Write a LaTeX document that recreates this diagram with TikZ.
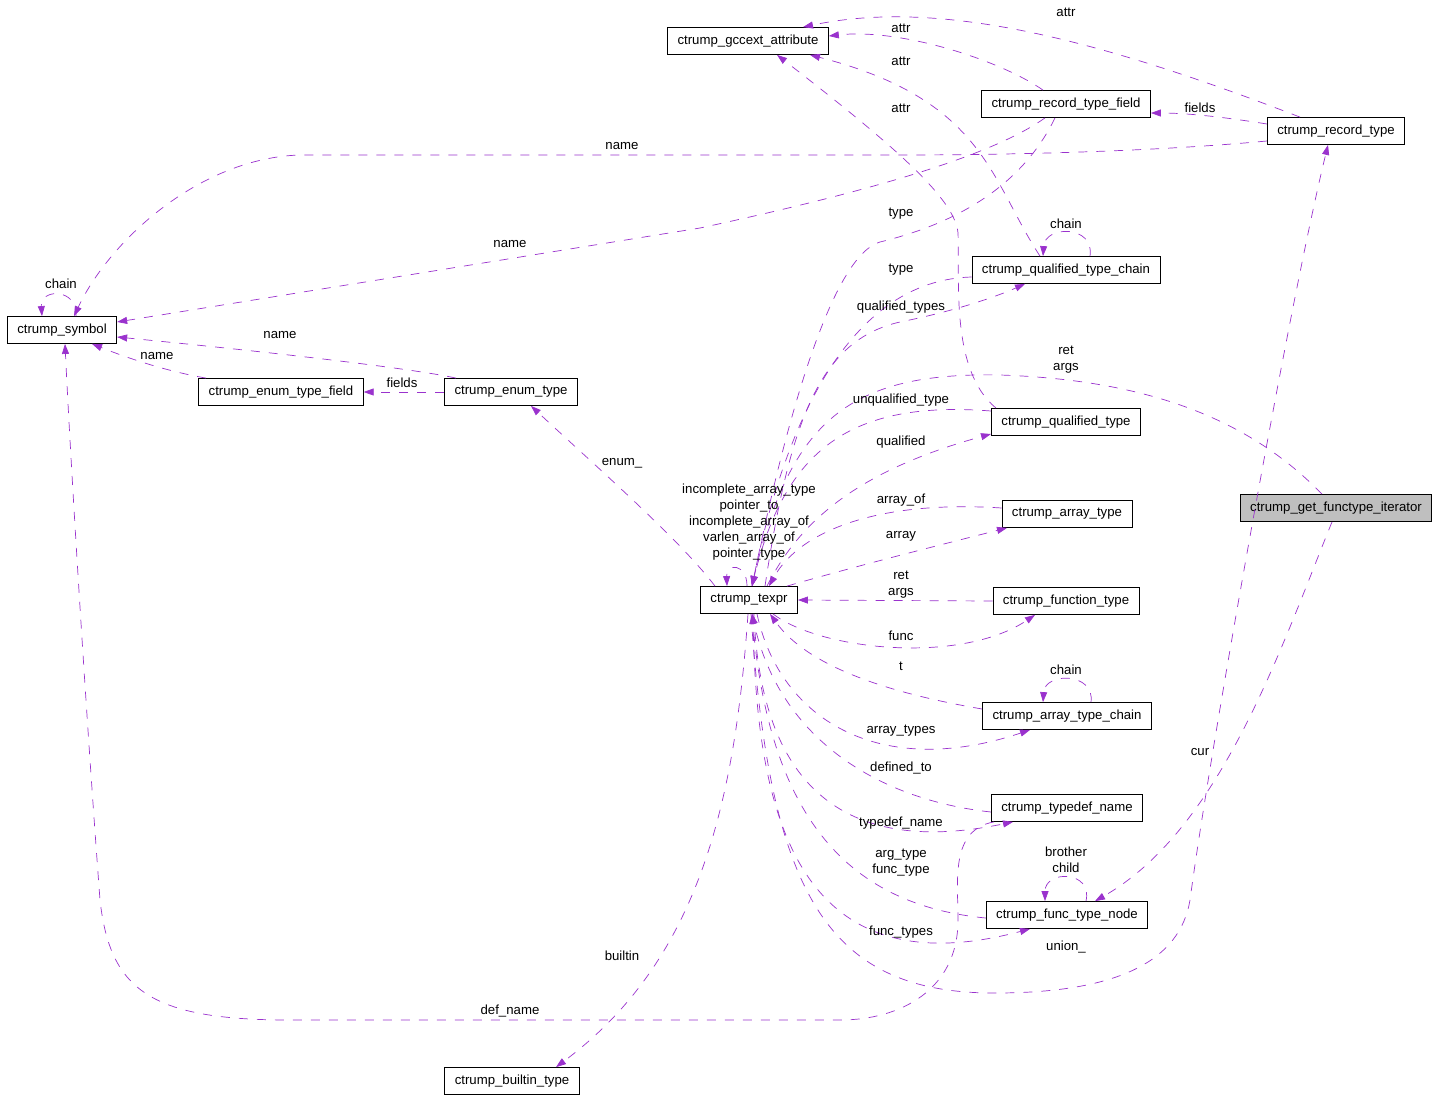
\documentclass[tikz,border=0pt]{standalone}
\usepackage{fontspec}
\setmainfont{Liberation Sans}
\usepackage{tikz}
\usetikzlibrary{arrows.meta}
\definecolor{usecol}{HTML}{9A32CD}
\definecolor{curfill}{HTML}{BFBFBF}

\begin{document}
\begin{tikzpicture}[x=1pt,y=-1pt,
    every node/.style={font=\fontsize{13.2}{16}\selectfont},
    cls/.style={draw,line width=0.8pt,inner xsep=10pt,inner ysep=0pt,minimum height=27pt},
    curcls/.style={cls,fill=curfill},
    lbl/.style={inner sep=0pt,align=center},
    usage/.style={usecol,line width=0.7pt,dash pattern=on 9pt off 9pt,-{Triangle[length=10pt,width=7pt]}}]
    \useasboundingbox (0,0) rectangle (1437,1100);

      \node[cls] (g) at (748,41) {ctrump\_gccext\_attribute};
      \node[cls] (rtf) at (1066,104) {ctrump\_record\_type\_field};
      \node[cls] (rt) at (1336,131) {ctrump\_record\_type};
      \node[cls] (qtc) at (1066,270) {ctrump\_qualified\_type\_chain};
      \node[cls] (sym) at (62,330) {ctrump\_symbol};
      \node[cls] (etf) at (281,392) {ctrump\_enum\_type\_field};
      \node[cls] (et) at (511,392) {ctrump\_enum\_type};
      \node[cls] (qt) at (1066,422) {ctrump\_qualified\_type};
      \node[curcls] (gfi) at (1336,508) {ctrump\_get\_functype\_iterator};
      \node[cls] (at) at (1067,514) {ctrump\_array\_type};
      \node[cls] (tx) at (749,600) {ctrump\_texpr};
      \node[cls] (ft) at (1066,601) {ctrump\_function\_type};
      \node[cls] (atc) at (1067,716) {ctrump\_array\_type\_chain};
      \node[cls] (tn) at (1067,808) {ctrump\_typedef\_name};
      \node[cls] (ftn) at (1067,915) {ctrump\_func\_type\_node};
      \node[cls] (bt) at (512,1081) {ctrump\_builtin\_type};

      \draw[usage] ([xshift=-36pt]rt.north) .. controls (1100,40) and (940,-2) .. ([xshift=55pt]g.north);
      \draw[usage] ([xshift=-23pt]rtf.north) .. controls (1000,60) and (900,28) .. ([yshift=5pt]g.east);
      \draw[usage] ([xshift=-26pt]qtc.north) .. controls (990,180) and (985,100) .. ([xshift=62pt]g.south);
      \draw[usage] ([xshift=-70pt]qt.north) .. controls (950,370) and (960,280) .. (958,233)
            .. controls (955,200) and (900,150) .. ([xshift=29pt]g.south);
      \draw[usage] ([yshift=7pt]rt.west) .. controls (1230,118) and (1190,113) .. ([yshift=-9pt]rtf.east);
      \draw[usage] ([yshift=-10pt]rt.west) .. controls (1150,152) and (1000,155) .. (900,155) -- (300,155)
            .. controls (200,158) and (110,240) .. ([xshift=12pt]sym.north);
      \draw[usage] ([xshift=-21pt]rtf.south) .. controls (1000,150) and (900,185) .. (700,228) -- ([yshift=8pt]sym.east);
      \draw[usage] ([xshift=-11pt]rtf.south) .. controls (1020,190) and (950,225) .. (880,242)
            .. controls (835,255) and (790,400) .. ([xshift=3pt]tx.north);
      \draw[usage] ([yshift=-7pt]qtc.west) .. controls (860,280) and (790,400) .. ([xshift=3pt]tx.north);
      \draw[usage] ([xshift=16pt]tx.north) .. controls (790,420) and (820,340) .. (900,322)
            .. controls (960,310) and (1000,295) .. ([xshift=-41pt]qtc.south);
      \draw[usage] ([xshift=24pt]qtc.north) .. controls (1095,225) and (1045,225) .. ([xshift=-23pt]qtc.north);
      \draw[usage] ([xshift=14pt]sym.north) .. controls (78,288) and (40,288) .. ([xshift=-20pt]sym.north);
      \draw[usage] ([xshift=-55pt]et.north) .. controls (420,370) and (300,355) .. ([yshift=-7pt]sym.east);
      \draw[usage] ([xshift=-75pt]etf.north) .. controls (160,370) and (120,355) .. ([xshift=30pt]sym.south);
      \draw[usage] (et.west) -- (etf.east);
      \draw[usage] ([xshift=-34pt]tx.north) .. controls (680,540) and (600,470) .. ([xshift=20pt]et.south);
      \draw[usage] ([xshift=-14pt]gfi.north) .. controls (1250,420) and (1150,380) .. (1000,375)
            .. controls (850,372) and (790,420) .. ([xshift=3pt]tx.north);
      \draw[usage] ([yshift=11pt]qt.west) .. controls (850,400) and (785,450) .. ([xshift=3pt]tx.north);
      \draw[usage] ([xshift=18pt]tx.north) .. controls (800,520) and (860,470) .. ([yshift=-12pt]qt.west);
      \draw[usage] ([xshift=-2pt]tx.north) .. controls (747,563) and (726,563) .. ([xshift=-22pt]tx.north);
      \draw[usage] ([yshift=6pt]at.west) .. controls (880,500) and (800,530) .. ([xshift=20pt]tx.north);
      \draw[usage] ([xshift=38pt]tx.north) .. controls (860,565) and (940,545) .. ([xshift=-60pt]at.south);
      \draw[usage] (ft.west) -- (tx.east);
      \draw[usage] ([xshift=24pt]tx.south) .. controls (820,650) and (960,665) .. ([xshift=-31pt]ft.south);
      \draw[usage] ([yshift=7pt]atc.west) .. controls (900,695) and (810,670) .. ([xshift=21pt]tx.south);
      \draw[usage] ([xshift=8pt]tx.south) .. controls (780,720) and (880,780) .. ([xshift=-37pt]atc.south);
      \draw[usage] ([xshift=24pt]atc.north) .. controls (1095,672) and (1045,672) .. ([xshift=-24pt]atc.north);
      \draw[usage] ([yshift=-4pt]tn.west) .. controls (880,800) and (780,740) .. ([xshift=3pt]tx.south);
      \draw[usage] ([xshift=5pt]tx.south) .. controls (760,770) and (830,860) .. ([xshift=-54pt]tn.south);
      \draw[usage] ([yshift=-3pt]ftn.west) .. controls (850,905) and (770,820) .. ([xshift=3pt]tx.south);
      \draw[usage] ([xshift=4pt]tx.south) .. controls (755,820) and (800,990) .. ([xshift=-37pt]ftn.south);
      \draw[usage] ([xshift=19pt]ftn.north) .. controls (1093,870) and (1045,870) .. ([xshift=-22pt]ftn.north);
      \draw[usage] ([xshift=-4pt]gfi.south) .. controls (1280,650) and (1220,830) .. ([xshift=28pt]ftn.north);
      \draw[usage] ([xshift=2pt]tx.south) .. controls (770,900) and (830,995) .. (1000,993)
            .. controls (1120,992) and (1180,960) .. (1190,900)
            .. controls (1210,750) and (1290,300) .. ([xshift=-8pt]rt.south);
      \draw[usage] ([xshift=3pt]tn.south west) .. controls (950,830) and (958,880) .. (958,920)
            .. controls (958,990) and (900,1020) .. (840,1020) -- (290,1020)
            .. controls (150,1020) and (110,990) .. (100,900)
            .. controls (85,700) and (70,450) .. ([xshift=3pt]sym.south);
      \draw[usage] ([xshift=-1pt]tx.south) .. controls (735,800) and (700,960) .. ([xshift=44pt]bt.north);

      \node[lbl] (lattr1) at (1066,12) {attr};
      \node[lbl] (lattr2) at (901,28) {attr};
      \node[lbl] (lattr3) at (901,61) {attr};
      \node[lbl] (lattr4) at (901,108) {attr};
      \node[lbl] (lfields1) at (1200,108) {fields};
      \node[lbl] (lname1) at (622,146) {name};
      \node[lbl] (lname2) at (510,244) {name};
      \node[lbl] (lname3) at (280,335) {name};
      \node[lbl] (lname4) at (157,356) {name};
      \node[lbl] (lchain1) at (61,284) {chain};
      \node[lbl] (lchain2) at (1066,224) {chain};
      \node[lbl] (lchain3) at (1066,670) {chain};
      \node[lbl] (ltype1) at (901,214) {type};
      \node[lbl] (ltype2) at (901,270) {type};
      \node[lbl] (lqts) at (901,307) {qualified\_types};
      \node[lbl] (lretargs1) at (1066,360) {ret\\args};
      \node[lbl] (lfields2) at (402,383) {fields};
      \node[lbl] (lunq) at (901,400) {unqualified\_type};
      \node[lbl] (lqual) at (901,442) {qualified};
      \node[lbl] (lenum) at (622,463) {enum\_};
      \node[lbl] (lself) at (749,522) {incomplete\_array\_type\\pointer\_to\\incomplete\_array\_of\\varlen\_array\_of\\pointer\_type};
      \node[lbl] (larrof) at (901,500) {array\_of};
      \node[lbl] (larr) at (901,536) {array};
      \node[lbl] (lretargs2) at (901,585) {ret\\args};
      \node[lbl] (lfunc) at (901,636) {func};
      \node[lbl] (lt) at (901,666) {t};
      \node[lbl] (larrtys) at (901,731) {array\_types};
      \node[lbl] (ldefto) at (901,768) {defined\_to};
      \node[lbl] (ltdname) at (901,823) {typedef\_name};
      \node[lbl] (largft) at (901,863) {arg\_type\\func\_type};
      \node[lbl] (lbrch) at (1066,860) {brother\\child};
      \node[lbl] (lfts) at (901,932) {func\_types};
      \node[lbl] (lunion) at (1066,947) {union\_};
      \node[lbl] (lcur) at (1200,752) {cur};
      \node[lbl] (lbuiltin) at (622,956) {builtin};
      \node[lbl] (ldefname) at (510,1011) {def\_name};

\end{tikzpicture}
\end{document}
